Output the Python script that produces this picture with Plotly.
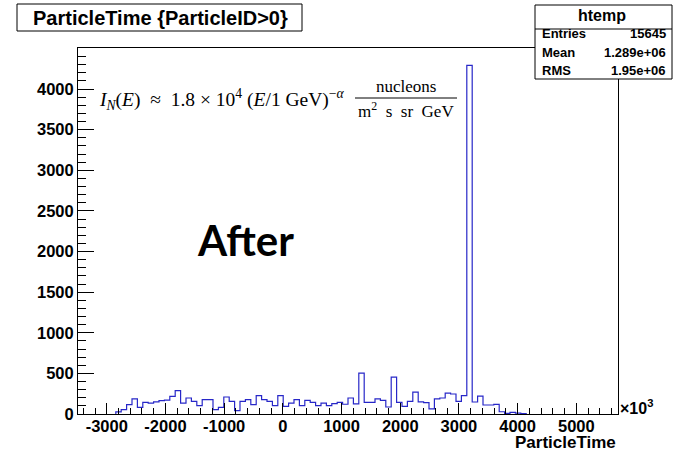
import numpy as np
import plotly.graph_objects as go

# ---- data ----
bin_first_edge = -2846      # low edge of first filled bin (axis units, x10^3)
bin_width = 92
counts = [25, 53, 115, 185, 82, 143, 135, 150, 165, 170,
          217, 287, 135, 197, 156, 103, 176, 176, 53, 82,
          209, 156, 41, 156, 176, 115, 225, 176, 156, 103,
          225, 94, 135, 176, 103, 168, 143, 103, 135, 103,
          127, 143, 120, 197, 125, 504, 143, 143, 185, 168,
          86, 455, 143, 94, 156, 270, 150, 140, 62, 185,
          197, 258, 246, 156, 225, 4290, 148, 221, 111, 111,
          119, 28, 8, 20, 10, 6]
x_range = [-3490, 5710]
y_range = [0, 4505]
y_tickvals = [0, 500, 1000, 1500, 2000, 2500, 3000, 3500, 4000]
x_tickvals = [-3000, -2000, -1000, 0, 1000, 2000, 3000, 4000, 5000]
x_ticktext = ["-3000", "-2000", "-1000", "0", "1000", "2000", "3000", "4000", "5000"]
title_text = "ParticleTime {ParticleID>0}"
stats_name = "htemp"
stats_rows = [("Entries", "15645"), ("Mean", "1.289e+06"), ("RMS", "1.95e+06")]

# ---- histogram outline ----
n = len(counts)
edges = bin_first_edge + bin_width * np.arange(n + 1)
xs = [edges[0]] + list(edges[:n]) + [edges[n]]
ys = [0] + list(counts) + [0]

W, H = 679, 451
L, R, T, B = 78, 618, 48, 414


def px(x):
    return (x - L) / (R - L)


def py(y):
    return (B - y) / (B - T)


fig = go.Figure()
fig.add_trace(go.Scatter(x=xs, y=ys, mode="lines", line_shape="hv",
                         line=dict(color="#2727c8", width=1.2),
                         hoverinfo="skip", showlegend=False))

tickfont = dict(family="Liberation Sans", size=16.5, color="black", weight="bold")
fig.update_xaxes(range=x_range, tickmode="array", tickvals=x_tickvals, ticktext=x_ticktext,
                 ticks="inside", ticklen=11, tickcolor="black", tickwidth=1,
                 ticklabelstandoff=-3,
                 minor=dict(dtick=200, tick0=0, ticks="inside", ticklen=6,
                            tickcolor="black", tickwidth=1, showgrid=False),
                 showline=True, linecolor="black", linewidth=1, mirror=True,
                 showgrid=False, zeroline=False, tickfont=tickfont)
fig.update_yaxes(range=y_range, tickmode="array", tickvals=y_tickvals,
                 ticks="inside", ticklen=16, tickcolor="black", tickwidth=1,
                 minor=dict(dtick=100, tick0=0, ticks="inside", ticklen=8,
                            tickcolor="black", tickwidth=1, showgrid=False),
                 showline=True, linecolor="black", linewidth=1, mirror=True,
                 showgrid=False, zeroline=False, tickfont=tickfont)

shapes = []
annos = []

# title box
shapes.append(dict(type="rect", xref="paper", yref="paper",
                   x0=px(17), x1=px(302), y0=py(31), y1=py(4),
                   line=dict(color="black", width=1), fillcolor="white", layer="above"))
annos.append(dict(text=title_text, x=px(160), y=py(18), xref="paper", yref="paper",
                  showarrow=False, xanchor="center", yanchor="middle",
                  font=dict(family="Liberation Sans", size=20, color="black", weight="bold")))

# stats box
shapes.append(dict(type="rect", xref="paper", yref="paper",
                   x0=px(535), x1=px(672), y0=py(79), y1=py(5),
                   line=dict(color="black", width=1), fillcolor="white", layer="above"))
shapes.append(dict(type="line", xref="paper", yref="paper",
                   x0=px(535), x1=px(672), y0=py(29), y1=py(29),
                   line=dict(color="black", width=1), layer="above"))
sfont = dict(family="Liberation Sans", size=13, color="black", weight="bold")
annos.append(dict(text=stats_name, x=px(602), y=py(16), xref="paper", yref="paper",
                  showarrow=False, xanchor="center", yanchor="middle",
                  font=dict(family="Liberation Sans", size=16, color="black", weight="bold")))
for i, (k, v) in enumerate(stats_rows):
    yy = py(34 + 18.5 * i)
    annos.append(dict(text=k, x=px(540), y=yy, xref="paper", yref="paper",
                      showarrow=False, xanchor="left", yanchor="middle", font=sfont))
    annos.append(dict(text=v, x=px(668), y=yy, xref="paper", yref="paper",
                      showarrow=False, xanchor="right", yanchor="middle", font=sfont))

# axis title and exponent
annos.append(dict(text="ParticleTime", x=px(617), y=py(442), xref="paper", yref="paper",
                  showarrow=False, xanchor="right", yanchor="middle", borderpad=0,
                  font=dict(family="Liberation Sans", size=17, color="black", weight="bold")))
annos.append(dict(text="×10<sup>3</sup>", x=px(618), y=py(407), xref="paper", yref="paper",
                  showarrow=False, xanchor="left", yanchor="middle",
                  font=dict(family="Liberation Sans", size=16, color="black", weight="bold")))

# formula
serif = dict(family="Liberation Serif", size=19.5, color="black")
annos.append(dict(text="<i>I</i><sub><i>N</i></sub>(<i>E</i>)  ≈  1.8 × 10<sup>4</sup> (<i>E</i>/1 GeV)<sup>−<i>α</i></sup>",
                  x=px(97), y=py(99), xref="paper", yref="paper",
                  showarrow=False, xanchor="left", yanchor="middle", font=serif))
annos.append(dict(text="nucleons", x=px(406), y=py(86), xref="paper", yref="paper",
                  showarrow=False, xanchor="center", yanchor="middle",
                  font=dict(family="Liberation Serif", size=17, color="black")))
shapes.append(dict(type="line", xref="paper", yref="paper",
                   x0=px(355), x1=px(457), y0=py(98), y1=py(98),
                   line=dict(color="black", width=1), layer="above"))
annos.append(dict(text="m<sup>2</sup>  s  sr  GeV", x=px(406), y=py(110), xref="paper", yref="paper",
                  showarrow=False, xanchor="center", yanchor="middle",
                  font=dict(family="Liberation Serif", size=17, color="black")))

# big label
annos.append(dict(text="After", x=px(245), y=py(240), xref="paper", yref="paper",
                  showarrow=False, xanchor="center", yanchor="middle",
                  font=dict(family="Lato", size=42, color="black", weight="bold")))

fig.update_layout(width=W, height=H,
                  margin=dict(l=L, r=W - R, t=T, b=H - B, pad=0),
                  paper_bgcolor="white", plot_bgcolor="white",
                  shapes=shapes, annotations=annos, showlegend=False)

fig.write_html("out.html")
